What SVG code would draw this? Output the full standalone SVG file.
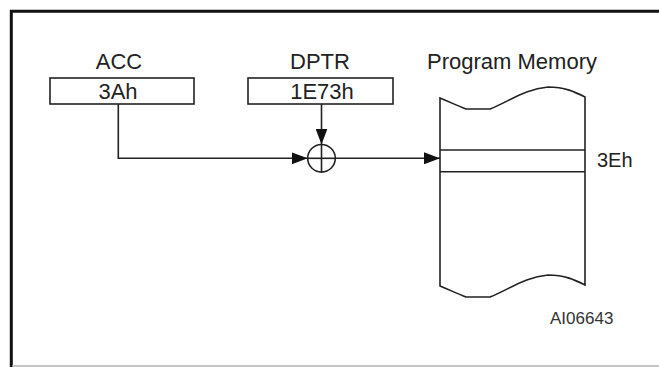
<svg xmlns="http://www.w3.org/2000/svg" width="659" height="367" viewBox="0 0 659 367">
<style>
text{font-family:"Liberation Sans",Arial,sans-serif;fill:#222;}
.lbl{font-size:22px;text-anchor:middle;}
.box{fill:#fff;stroke:#222;stroke-width:1.6;}
.ln{fill:none;stroke:#222;stroke-width:1.6;}
</style>
<defs>
<marker id="ah" viewBox="0 0 16 12" refX="16" refY="6" markerWidth="16" markerHeight="12" markerUnits="userSpaceOnUse" orient="auto">
<path d="M0,0 L16,6 L0,12 Z" fill="#111"/>
</marker>
</defs>
<rect width="659" height="367" fill="#fff"/>
<g id="frame">
<path d="M11.3,367 V11.3 H659" fill="none" stroke="#111" stroke-width="3"/>
<line x1="12" y1="366" x2="659" y2="366" stroke="#b0b0b0" stroke-width="1.5"/>
</g>
<g id="acc">
<text class="lbl" x="119" y="69">ACC</text>
<rect class="box" x="50" y="78" width="144" height="26"/>
<text class="lbl" x="118" y="99">3Ah</text>
</g>
<g id="dptr">
<text class="lbl" x="320" y="69">DPTR</text>
<rect class="box" x="248" y="78" width="145" height="26"/>
<text class="lbl" x="322" y="99">1E73h</text>
</g>
<g id="adder">
<circle class="ln" cx="321.5" cy="158.3" r="13.8"/>
<line class="ln" x1="307.7" y1="158.3" x2="335.3" y2="158.3"/>
<line class="ln" x1="321.5" y1="144.5" x2="321.5" y2="172.1"/>
</g>
<g id="memory">
<text class="lbl" x="512" y="69">Program Memory</text>
<path class="box" d="M440,98 C452,103 458,106 466,109 L490,109 C510,101 525,89 548,87 C565,87 575,92 585,97 V285 C575,280 565,275 548,275 C525,277 510,289 490,297 L466,297 C458,294 452,291 440,286 Z"/>
<line class="ln" x1="440" y1="150" x2="585" y2="150"/>
<line class="ln" x1="440" y1="171.7" x2="585" y2="171.7"/>
<text x="597" y="167" style="font-size:20px">3Eh</text>
</g>
<g id="connectors">
<path class="ln" d="M118.3,104 V158.3 H307.7" marker-end="url(#ah)"/>
<path class="ln" d="M321.5,104 V144.5" marker-end="url(#ah)"/>
<path class="ln" d="M335.3,158.3 H440" marker-end="url(#ah)"/>
</g>
<text x="550" y="324" style="font-size:17px;fill:#333">AI06643</text>
</svg>
